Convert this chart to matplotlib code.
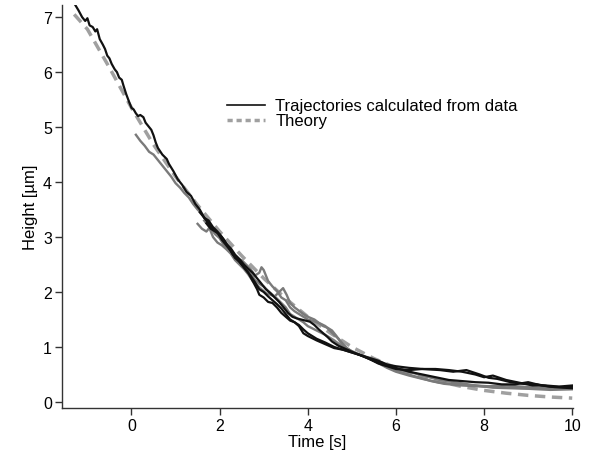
import numpy as np
import matplotlib
matplotlib.use('Agg')
import matplotlib.pyplot as plt

plt.rcParams['font.family'] = ['Liberation Sans', 'DejaVu Sans']

# --- DATA ---
theory_t = [-1.3, -1.0, -0.5, 0.0, 0.5, 1.0, 1.5, 2.0, 2.5, 3.0, 3.5, 4.0, 4.5, 5.0,
            5.5, 6.0, 6.5, 7.0, 7.5, 8.0, 8.5, 9.0, 9.5, 10.0]
theory_h = [7.05, 6.78, 6.08, 5.35, 4.68, 4.10, 3.58, 3.10, 2.66, 2.25, 1.88, 1.55, 1.26, 1.00,
            0.79, 0.62, 0.48, 0.37, 0.28, 0.21, 0.16, 0.12, 0.09, 0.07]

# black trajectories
black1_t = [-1.29, -1.2, -1.12, -1.05, -1.0, -0.95, -0.88, -0.82, -0.78, -0.72, -0.65, -0.6, -0.55,
            -0.5, -0.45, -0.38, -0.33, -0.28, -0.22, -0.18, -0.12, -0.05, 0.0, 0.05, 0.1, 0.15, 0.2,
            0.27, 0.32, 0.38, 0.45, 0.5, 0.55, 0.6, 0.7, 0.8, 0.85, 0.95, 1.05, 1.15, 1.25, 1.35,
            1.45, 1.55, 1.65, 1.75, 1.85, 1.95, 2.05, 2.15, 2.25, 2.35, 2.45, 2.55, 2.65, 2.75,
            2.85, 2.9, 3.0, 3.1, 3.2, 3.3, 3.4, 3.5, 3.6, 3.7, 3.8, 3.9, 4.0, 4.2, 4.4, 4.6, 4.8,
            5.0, 5.2, 5.4, 5.6, 5.8, 6.0, 6.3, 6.6, 7.0, 7.3, 7.6, 7.9, 8.1, 8.3, 8.6, 8.9, 9.2,
            9.5, 9.8, 10.0]
black1_h = [7.24, 7.12, 7.0, 6.93, 6.98, 6.85, 6.82, 6.74, 6.78, 6.6, 6.5, 6.42, 6.3,
            6.25, 6.15, 6.05, 6.0, 5.9, 5.86, 5.75, 5.6, 5.45, 5.35, 5.32, 5.25, 5.2, 5.22,
            5.18, 5.08, 5.02, 4.95, 4.85, 4.72, 4.62, 4.5, 4.42, 4.33, 4.2, 4.05, 3.95, 3.82, 3.75,
            3.6, 3.5, 3.35, 3.25, 3.15, 3.08, 2.95, 2.85, 2.75, 2.62, 2.55, 2.45, 2.35, 2.2,
            2.05, 1.95, 1.9, 1.82, 1.8, 1.72, 1.62, 1.55, 1.48, 1.45, 1.38, 1.25, 1.2, 1.12, 1.05, 0.98, 0.95,
            0.9, 0.85, 0.78, 0.7, 0.65, 0.6, 0.58, 0.6, 0.58, 0.55, 0.58, 0.5, 0.44, 0.42, 0.36, 0.33, 0.32,
            0.28, 0.27, 0.28]

black2_t = [1.55, 1.65, 1.75, 1.85, 1.95, 2.05, 2.15, 2.25, 2.35, 2.45, 2.55, 2.65, 2.75, 2.85,
            2.95, 3.05, 3.15, 3.25, 3.35, 3.45, 3.55, 3.65, 3.75, 3.85, 3.95, 4.05, 4.15, 4.25,
            4.35, 4.45, 4.55, 4.7, 4.9, 5.1, 5.3, 5.5, 5.7, 6.0, 6.3, 6.6, 6.9, 7.2, 7.5, 7.8,
            8.1, 8.4, 8.7, 9.0, 9.3, 9.6, 10.0]
black2_h = [3.45, 3.35, 3.3, 3.18, 3.1, 3.0, 2.88, 2.8, 2.68, 2.6, 2.5, 2.42, 2.35, 2.25,
            2.15, 2.05, 1.98, 1.9, 1.82, 1.72, 1.62, 1.55, 1.52, 1.5, 1.48, 1.46, 1.4, 1.32,
            1.25, 1.18, 1.1, 1.02, 0.95, 0.88, 0.82, 0.75, 0.68, 0.62, 0.55, 0.5, 0.45, 0.4, 0.38, 0.36,
            0.35, 0.32, 0.32, 0.36, 0.3, 0.27, 0.25]

black3_t = [1.7, 1.8, 1.9, 2.0, 2.1, 2.2, 2.3, 2.4, 2.5, 2.6, 2.7, 2.8, 2.9, 3.0, 3.1, 3.2,
            3.3, 3.4, 3.5, 3.6, 3.7, 3.8, 3.9, 4.0, 4.1, 4.2, 4.4, 4.6, 4.8, 5.0, 5.2, 5.4, 5.6,
            5.8, 6.0, 6.3, 6.6, 6.9, 7.2, 7.5, 7.8, 8.0, 8.2, 8.5, 8.8, 9.1, 9.4, 9.7, 10.0]
black3_h = [3.25, 3.15, 3.1, 3.05, 2.95, 2.82, 2.68, 2.6, 2.5, 2.4, 2.3, 2.18, 2.05, 2.0, 1.92, 1.85,
            1.78, 1.7, 1.6, 1.5, 1.45, 1.4, 1.32, 1.25, 1.2, 1.15, 1.08, 1.0, 0.95, 0.9, 0.85, 0.8, 0.75,
            0.68, 0.65, 0.62, 0.6, 0.6, 0.58, 0.55, 0.5, 0.45, 0.48, 0.4, 0.35, 0.3, 0.3, 0.28, 0.3]

# gray trajectories
gray1_t = [0.1, 0.2, 0.3, 0.4, 0.5, 0.6, 0.7, 0.8, 0.9, 1.0, 1.1, 1.2, 1.3, 1.4, 1.5, 1.6, 1.7,
           1.8, 1.9, 2.0, 2.1, 2.2, 2.3, 2.4, 2.5, 2.6, 2.7, 2.8, 2.9, 3.0, 3.1, 3.2, 3.3, 3.4,
           3.5, 3.6, 3.7, 3.8, 3.9, 4.0, 4.2, 4.4, 4.6, 4.8, 5.0, 5.2, 5.5, 5.8, 6.0, 6.3, 6.6,
           7.0, 7.4, 7.8, 8.2, 8.6, 9.0, 9.5, 10.0]
gray1_h = [4.86, 4.75, 4.66, 4.55, 4.5, 4.4, 4.3, 4.2, 4.1, 3.98, 3.9, 3.8, 3.72, 3.6, 3.5, 3.42, 3.3,
           3.15, 3.05, 2.98, 2.85, 2.78, 2.7, 2.6, 2.5, 2.45, 2.35, 2.22, 2.15, 2.1, 2.02, 1.95, 1.88, 1.8,
           1.72, 1.6, 1.55, 1.5, 1.45, 1.38, 1.3, 1.22, 1.12, 1.0, 0.92, 0.85, 0.78, 0.68, 0.6, 0.55, 0.48,
           0.4, 0.35, 0.3, 0.28, 0.26, 0.25, 0.24, 0.25]

gray2_t = [1.5, 1.6, 1.7, 1.8, 1.9, 2.0, 2.1, 2.2, 2.3, 2.4, 2.5, 2.6, 2.7, 2.8, 2.9, 2.95,
           3.0, 3.1, 3.2, 3.3, 3.4, 3.5, 3.6, 3.7, 3.8, 3.9, 4.0, 4.1, 4.2, 4.3, 4.4, 4.5, 4.6,
           4.7, 4.8, 4.9, 5.0, 5.2, 5.5, 5.8, 6.0, 6.3, 6.6, 7.0, 7.4, 7.8, 8.2, 8.6, 9.0, 9.5, 10.0]
gray2_h = [3.24, 3.15, 3.1, 3.2, 3.1, 3.0, 2.9, 2.82, 2.72, 2.6, 2.58, 2.5, 2.42, 2.3, 2.35, 2.45,
           2.4, 2.2, 2.1, 2.02, 1.9, 1.85, 1.72, 1.65, 1.6, 1.55, 1.5, 1.48, 1.45, 1.42, 1.38, 1.3, 1.22,
           1.15, 1.05, 0.97, 0.92, 0.85, 0.75, 0.62, 0.55, 0.48, 0.42, 0.35, 0.32, 0.3, 0.26, 0.25, 0.24, 0.22, 0.23]

gray3_t = [1.65, 1.75, 1.85, 1.95, 2.05, 2.15, 2.25, 2.35, 2.45, 2.55, 2.65, 2.75, 2.85, 2.95,
           3.05, 3.15, 3.25, 3.35, 3.44, 3.52, 3.6, 3.7, 3.8, 3.9, 4.0, 4.15, 4.25, 4.35, 4.45,
           4.55, 4.65, 4.75, 4.85, 5.0, 5.3, 5.6, 5.9, 6.2, 6.5, 6.8, 7.1, 7.5, 8.0, 8.5, 9.0,
           9.5, 10.0]
gray3_h = [3.3, 3.2, 3.0, 2.9, 2.85, 2.78, 2.7, 2.58, 2.5, 2.42, 2.32, 2.2, 2.12, 2.05,
           1.98, 1.95, 1.92, 2.0, 2.07, 1.95, 1.8, 1.72, 1.66, 1.6, 1.55, 1.5, 1.44, 1.38, 1.35,
           1.3, 1.2, 1.08, 1.0, 0.92, 0.82, 0.72, 0.6, 0.52, 0.45, 0.38, 0.33, 0.3, 0.28, 0.3, 0.27,
           0.25, 0.26]

# --- CIZIM ---
fig = plt.figure(figsize=(5.89, 4.64), dpi=100)
ax = fig.add_axes([0.105, 0.1185, 0.868, 0.8685])

BLACK = '#111111'
GRAY = '#7a7a7a'
THEORY = '#a0a0a0'

ax.plot(theory_t, theory_h, color=THEORY, lw=2.5, dashes=(3.0, 1.9), zorder=1)
for t, h in [(gray1_t, gray1_h), (gray2_t, gray2_h), (gray3_t, gray3_h)]:
    ax.plot(t, h, color=GRAY, lw=1.7, zorder=2)
for t, h in [(black1_t, black1_h), (black2_t, black2_h), (black3_t, black3_h)]:
    ax.plot(t, h, color=BLACK, lw=1.6, zorder=3)

# legend (manual handles)
h1, = ax.plot([], [], color=BLACK, lw=1.2)
h2, = ax.plot([], [], color=THEORY, lw=2.5, dashes=(1.5, 1.1))
ax.legend([h1, h2], ['Trajectories calculated from data', 'Theory'],
          loc='center left', bbox_to_anchor=(0.323, 0.731), frameon=False,
          fontsize=12, handlelength=2.3, handletextpad=0.6, labelspacing=0.0,
          borderpad=0, borderaxespad=0)

ax.set_xlim(-1.58, 10.02)
ax.set_ylim(-0.11, 7.22)
ax.set_xticks([0, 2, 4, 6, 8, 10])
ax.set_yticks(range(8))
for s in ['top', 'right']:
    ax.spines[s].set_visible(False)
for s in ['left', 'bottom']:
    ax.spines[s].set_color('#333333')
    ax.spines[s].set_linewidth(1.0)
ax.tick_params(direction='out', length=5, width=1.0, color='#333333', labelsize=11.5, pad=2)
ax.set_xlabel('Time [s]', fontsize=12, labelpad=1)
ax.set_ylabel('Height [µm]', fontsize=12, labelpad=4)

fig.savefig('out.png', dpi=100)
